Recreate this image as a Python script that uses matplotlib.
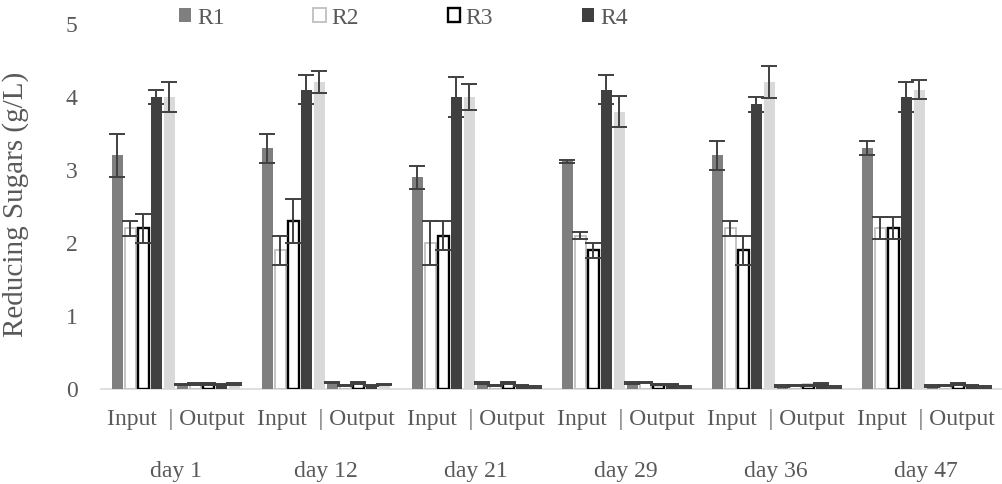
import matplotlib
matplotlib.use("Agg")
import matplotlib.pyplot as plt
import numpy as np

plt.rcParams['font.family'] = ['Liberation Serif', 'DejaVu Serif']

days = ["day 1", "day 12", "day 21", "day 29", "day 36", "day 47"]
io_label = "Input  | Output"
series = ["R1", "R2", "R3", "R4", "R5"]

# Input means
in_R1 = [3.2, 3.3, 2.9, 3.12, 3.2, 3.3]
in_R2 = [2.2, 1.9, 2.0, 2.1, 2.2, 2.2]
in_R3 = [2.2, 2.3, 2.1, 1.9, 1.9, 2.2]
in_R4 = [4.0, 4.1, 4.0, 4.1, 3.9, 4.0]
in_R5 = [4.0, 4.2, 4.0, 3.8, 4.2, 4.1]
# Input errors
in_R1_err = [0.3, 0.2, 0.16, 0.02, 0.2, 0.1]
in_R2_err = [0.1, 0.2, 0.3, 0.05, 0.1, 0.15]
in_R3_err = [0.2, 0.3, 0.2, 0.1, 0.2, 0.15]
in_R4_err = [0.1, 0.2, 0.28, 0.2, 0.1, 0.2]
in_R5_err = [0.2, 0.15, 0.18, 0.21, 0.22, 0.13]
# Output means
out_R1 = [0.06, 0.09, 0.08, 0.08, 0.04, 0.04]
out_R2 = [0.07, 0.05, 0.05, 0.09, 0.05, 0.05]
out_R3 = [0.07, 0.08, 0.08, 0.06, 0.05, 0.07]
out_R4 = [0.06, 0.05, 0.05, 0.06, 0.07, 0.05]
out_R5 = [0.07, 0.06, 0.03, 0.03, 0.03, 0.03]
out_err = [0.01, 0.01, 0.01, 0.01, 0.01, 0.01]

inputs = [in_R1, in_R2, in_R3, in_R4, in_R5]
inputs_err = [in_R1_err, in_R2_err, in_R3_err, in_R4_err, in_R5_err]
outputs = [out_R1, out_R2, out_R3, out_R4, out_R5]

styles = [
    dict(facecolor="#7f7f7f", edgecolor="none", linewidth=0),
    dict(facecolor="white", edgecolor="#c4c4c4", linewidth=1.4),
    dict(facecolor="white", edgecolor="black", linewidth=1.7),
    dict(facecolor="#404040", edgecolor="none", linewidth=0),
    dict(facecolor="#d9d9d9", edgecolor="none", linewidth=0),
]

text_color = "#595959"
W, H = 1003, 484
fig = plt.figure(figsize=(W / 100, H / 100), dpi=100)
ax = fig.add_axes([101 / W, (H - 389) / H, 900 / W, 365 / H])

x = np.arange(len(days))
pitch = 13 / 150
bw = 10.5 / 150
err_kw = dict(ecolor="#404040", elinewidth=1.4, capsize=6, capthick=1.4, zorder=5)

handles = []
for i in range(5):
    off = (i - 4.5) * pitch
    b = ax.bar(x + off, inputs[i], bw, yerr=inputs_err[i], error_kw=err_kw,
               label=series[i], zorder=3, **styles[i])
    handles.append(b)
for i in range(5):
    off = (i + 5 - 4.5) * pitch
    ax.bar(x + off, outputs[i], bw, yerr=out_err, error_kw=err_kw,
           zorder=3, **styles[i])

ax.set_xlim(-0.5, len(days) - 0.5)
ax.set_ylim(0, 5)
ax.set_yticks([0, 1, 2, 3, 4, 5])
ax.tick_params(axis='y', length=0, pad=17, labelsize=17, labelcolor=text_color)
ax.set_xticks(x)
ax.set_xticklabels([])
ax.tick_params(axis='x', length=0)
for s in ["top", "right", "left"]:
    ax.spines[s].set_visible(False)
ax.spines["bottom"].set_color("#d9d9d9")
ax.spines["bottom"].set_linewidth(1.2)

tr = ax.get_xaxis_transform()
for xi, d in zip(x, days):
    ax.text(xi, (389 - 425) / 365, io_label, transform=tr, ha="center", va="baseline",
            fontsize=17, color=text_color)
    ax.text(xi, (389 - 477) / 365, d, transform=tr, ha="center", va="baseline",
            fontsize=17, color=text_color)

fig.text(16 / W, 1 - 204 / H, "Reducing Sugars (g/L)", rotation=90, ha="center",
         va="center", fontsize=21, color=text_color)

leg = fig.legend(handles=handles[:4], labels=series[:4], loc="center left",
                 bbox_to_anchor=(179 / W, 1 - 18 / H), ncol=4, frameon=False,
                 fontsize=17, handlelength=0.52, handleheight=0.52,
                 handletextpad=0.25, columnspacing=3.75, borderpad=0,
                 borderaxespad=0)
for t in leg.get_texts():
    t.set_color(text_color)

fig.savefig("out.png", dpi=100)
